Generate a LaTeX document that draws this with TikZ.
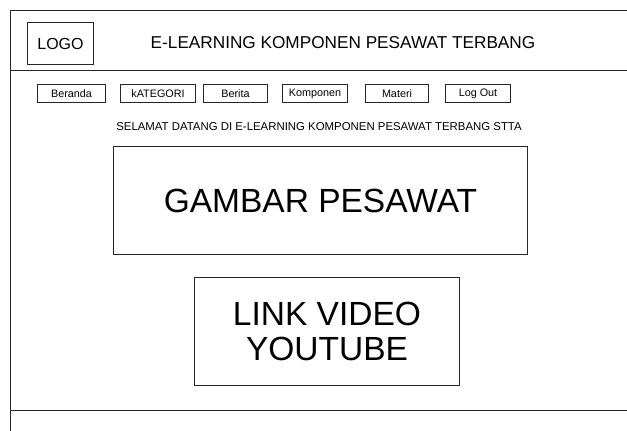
\documentclass[tikz,border=0pt]{standalone}
\usepackage{fontspec}
\setmainfont{Liberation Sans}
\begin{document}
\begin{tikzpicture}[x=1pt,y=-1pt,
  frame/.style={draw=black!85, line width=1pt},
  box/.style={draw=black!85, line width=1pt, inner sep=0pt, anchor=north west},
  btn/.style={box, font=\fontsize{10.8}{12}\selectfont},
]
\useasboundingbox (0,0) rectangle (627,431);
% page frame (runs off the right and bottom edges)
\draw[frame] (640,10) -- (10,10) -- (10,440);
\draw[frame] (10,70) -- (640,70);
\draw[frame] (10,410) -- (640,410);
% header
\node[box, minimum width=66pt, minimum height=42pt, font=\fontsize{16}{18}\selectfont] (logo) at (27,22) {LOGO};
\node[font=\fontsize{17.2}{19}\selectfont] (title) at (343,43) {E-LEARNING KOMPONEN PESAWAT TERBANG};
% menu buttons
\node[btn, minimum width=68pt, minimum height=18pt] (beranda) at (37,84) {Beranda};
\node[btn, minimum width=75pt, minimum height=18pt] (kategori) at (120,84) {kATEGORI};
\node[btn, minimum width=64pt, minimum height=18pt] (berita) at (203,84) {Berita};
\node[btn, minimum width=65pt, minimum height=18pt] (komponen) at (282,84) {Komponen};
\node[btn, minimum width=63pt, minimum height=18pt] (materi) at (365,84) {Materi};
\node[btn, minimum width=65pt, minimum height=18pt] (logout) at (445,84) {Log Out};
% welcome line
\node[font=\fontsize{11.4}{13}\selectfont] (welcome) at (319,127) {SELAMAT DATANG DI E-LEARNING KOMPONEN PESAWAT TERBANG STTA};
% content placeholders
\node[box, minimum width=414pt, minimum height=108pt, font=\fontsize{33.5}{38}\selectfont] (gambar) at (113,146) {GAMBAR PESAWAT};
\node[box, minimum width=265pt, minimum height=108pt, align=center, font=\fontsize{33.5}{35}\selectfont] (video) at (194,277) {LINK VIDEO\\YOUTUBE};
\end{tikzpicture}
\end{document}
